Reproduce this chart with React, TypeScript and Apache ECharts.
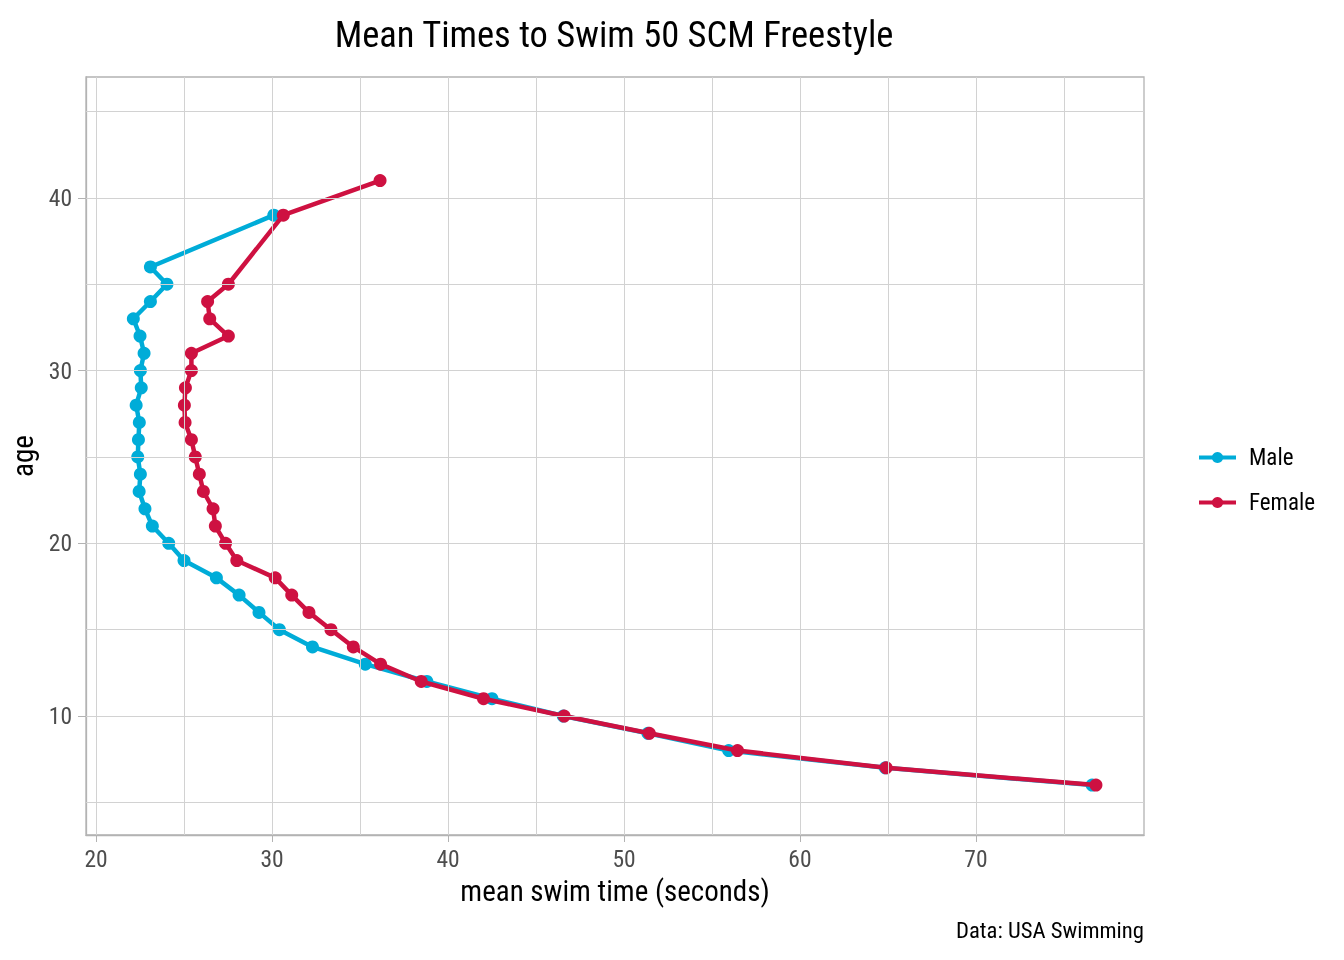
import React, { useEffect, useRef } from "react";
import * as echarts from "echarts";

const maleAges = [6, 7, 8, 9, 10, 11, 12, 13, 14, 15, 16, 17, 18, 19, 20, 21, 22, 23, 24, 25, 26, 27, 28, 29, 30, 31, 32, 33, 34, 35, 36, 39];
const maleTimes = [76.6, 64.85, 55.95, 51.36, 46.55, 42.5, 38.8, 35.3, 32.3, 30.42, 29.26, 28.13, 26.84, 25.0, 24.13, 23.2, 22.78, 22.45, 22.52, 22.37, 22.41, 22.46, 22.28, 22.57, 22.52, 22.73, 22.5, 22.12, 23.09, 24.03, 23.09, 30.1];

const femaleAges = [6, 7, 8, 9, 10, 11, 12, 13, 14, 15, 16, 17, 18, 19, 20, 21, 22, 23, 24, 25, 26, 27, 28, 29, 30, 31, 32, 33, 34, 35, 39, 41];
const femaleTimes = [76.82, 64.9, 56.45, 51.44, 46.6, 42.02, 38.48, 36.17, 34.62, 33.35, 32.1, 31.12, 30.18, 28.0, 27.36, 26.78, 26.65, 26.1, 25.87, 25.64, 25.42, 25.06, 25.02, 25.08, 25.42, 25.42, 27.52, 26.46, 26.34, 27.52, 30.64, 36.14];

const xTickLabels = [20, 30, 40, 50, 60, 70];
const yTickLabels = [10, 20, 30, 40];
const xGridValues = [20, 25, 30, 35, 40, 45, 50, 55, 60, 65, 70, 75];
const yGridValues = [5, 10, 15, 20, 25, 30, 35, 40, 45];

const FONT = "'Roboto Condensed', Roboto, sans-serif";
const MALE = "#00ACD8";
const FEMALE = "#CE1141";

export default function App() {
  const ref = useRef<HTMLDivElement>(null);
  useEffect(() => {
    if (!ref.current) return;
    const chart = echarts.init(ref.current, null, { renderer: "svg" });
    const pairs = (xs: number[], ys: number[]) => xs.map((x, i) => [x, ys[i]]);
    chart.setOption({
      animation: false,
      textStyle: { fontFamily: FONT },
      title: {
        text: "Mean Times to Swim 50 SCM Freestyle",
        left: 609,
        textAlign: "center",
        top: 11,
        textStyle: { fontSize: 36.5, fontWeight: "normal", color: "#000", fontFamily: FONT },
      },
      grid: {
        left: 86,
        top: 77,
        width: 1058,
        height: 758,
        show: true,
        borderColor: "#b3b3b3",
        borderWidth: 1.3,
        backgroundColor: "transparent",
      },
      legend: {
        data: ["Male", "Female"],
        orient: "vertical",
        left: 1192,
        top: 441,
        itemWidth: 37,
        itemHeight: 14,
        itemGap: 22,
        lineStyle: { width: 4 },
        textStyle: { fontSize: 23, color: "#000", fontFamily: FONT, padding: [0, 0, 0, 8] },
      },
      xAxis: {
        type: "value",
        min: 19.43,
        max: 79.55,
        name: "mean swim time (seconds)",
        nameLocation: "middle",
        nameGap: 41,
        nameTextStyle: { fontSize: 29, color: "#000", fontFamily: FONT },
        splitLine: { show: false },
        axisLine: { show: true, lineStyle: { color: "#b3b3b3", width: 1.3 } },
        axisTick: { show: true, customValues: xTickLabels, length: 7, lineStyle: { color: "#b3b3b3" } },
        axisLabel: { customValues: xTickLabels, color: "#4d4d4d", fontSize: 23.5, margin: 12, fontFamily: FONT },
      },
      yAxis: {
        type: "value",
        min: 3.11,
        max: 47.0,
        name: "age",
        nameLocation: "middle",
        nameRotate: 90,
        nameGap: 43,
        nameTextStyle: { fontSize: 29, color: "#000", fontFamily: FONT },
        splitLine: { show: false },
        axisLine: { show: true, lineStyle: { color: "#b3b3b3", width: 1.3 } },
        axisTick: { show: true, customValues: yTickLabels, length: 8, lineStyle: { color: "#b3b3b3" } },
        axisLabel: { customValues: yTickLabels, color: "#4d4d4d", fontSize: 23.5, margin: 14, fontFamily: FONT },
      },
      series: [
        {
          name: "grid",
          type: "line",
          data: [],
          z: 0,
          silent: true,
          markLine: {
            silent: true,
            symbol: ["none", "none"],
            label: { show: false },
            lineStyle: { color: "#d2d2d2", width: 1, type: "solid" },
            emphasis: { disabled: true },
            data: [
              ...xGridValues.map((v) => ({ xAxis: v })),
              ...yGridValues.map((v) => ({ yAxis: v })),
            ],
          },
        },
        {
          name: "Male",
          type: "line",
          data: pairs(maleTimes, maleAges),
          symbol: "circle",
          symbolSize: 13,
          color: MALE,
          lineStyle: { width: 4.5, color: MALE },
          itemStyle: { color: MALE },
          z: 3,
        },
        {
          name: "Female",
          type: "line",
          data: pairs(femaleTimes, femaleAges),
          symbol: "circle",
          symbolSize: 13,
          color: FEMALE,
          lineStyle: { width: 4.5, color: FEMALE },
          itemStyle: { color: FEMALE },
          z: 4,
        },
      ],
      graphic: [
        {
          type: "text",
          right: 200,
          top: 919,
          style: { text: "Data: USA Swimming", fontSize: 22.7, fill: "#000", fontFamily: FONT },
        },
      ],
    });
    return () => chart.dispose();
  }, []);
  return <div ref={ref} style={{ position: "fixed", left: 0, top: 0, width: 1344, height: 960 }} />;
}
